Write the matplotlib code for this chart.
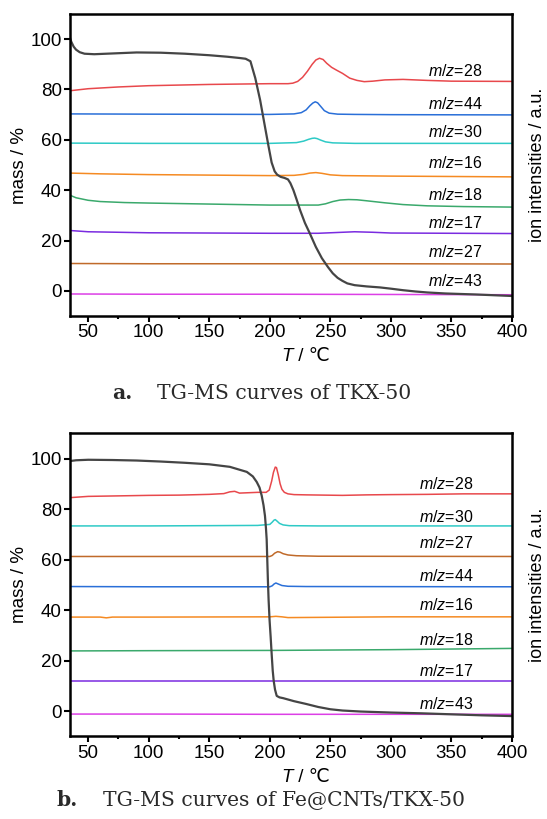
import matplotlib
matplotlib.use('Agg')
import matplotlib.pyplot as plt

plt.rcParams['font.family'] = ['Liberation Sans', 'DejaVu Sans']
plt.rcParams['mathtext.fontset'] = 'custom'
plt.rcParams['mathtext.it'] = 'Liberation Sans:italic'
plt.rcParams['mathtext.rm'] = 'Liberation Sans'

# ---------- panel a: TKX-50 ----------
tg_a_T = [35, 36, 38, 40, 43, 47, 55, 70, 90, 110, 130, 150, 165, 175, 180, 184, 188, 192, 196, 199, 201.5,
          204, 206, 209, 212, 215, 217, 219.5, 222, 225, 229, 233, 238, 243, 248, 252, 256, 260, 264, 270,
          280, 291, 300, 310, 320, 330, 345, 370, 400]
tg_a_M = [100.5, 99, 97, 95.8, 94.8, 94.2, 94.0, 94.3, 94.7, 94.6, 94.2, 93.6, 93.0, 92.5, 92.2, 91.2, 84.5,
          75.8, 65.2, 57.3, 51.0, 47.5, 46.2, 45.3, 44.9, 44.3, 42.8, 40.0, 36.5, 32.1, 27.0, 22.9, 17.5, 13.0,
          9.5, 7.0, 5.2, 4.0, 3.0, 2.3, 1.8, 1.4, 0.9, 0.3, -0.2, -0.6, -1.0, -1.4, -2.0]

m28_a_T = [35, 50, 75, 100, 150, 200, 215, 219, 223, 227, 231, 235, 238, 241, 244, 247, 251, 255, 260, 266,
           272, 278, 285, 295, 310, 330, 350, 400]
m28_a = [79.5, 80.3, 81.0, 81.5, 82.0, 82.3, 82.3, 82.5, 83.2, 84.8, 87.2, 90.0, 91.7, 92.4, 91.9, 90.4, 88.8,
         87.7, 86.4, 84.5, 83.6, 83.1, 83.3, 83.8, 84.0, 83.6, 83.3, 83.2]

m44_a_T = [35, 100, 200, 220, 226, 230, 233, 235.5, 237.5, 239.5, 242, 245, 249, 256, 270, 300, 400]
m44_a = [70.3, 70.2, 70.1, 70.3, 70.8, 71.9, 73.5, 74.6, 75.1, 74.7, 73.3, 71.6, 70.6, 70.2, 70.1, 70.0, 69.9]

m30_a_T = [35, 100, 200, 222, 228, 232, 235, 237, 239, 242, 246, 252, 270, 400]
m30_a = [58.7, 58.6, 58.6, 58.9, 59.5, 60.2, 60.6, 60.7, 60.5, 59.9, 59.2, 58.8, 58.6, 58.6]

m16_a_T = [35, 60, 100, 150, 200, 220, 228, 233, 238, 243, 250, 260, 300, 400]
m16_a = [46.8, 46.5, 46.2, 46.0, 45.8, 45.9, 46.3, 46.8, 47.0, 46.7, 46.1, 45.8, 45.6, 45.3]

m18_a_T = [35, 40, 50, 60, 80, 100, 150, 200, 240, 246, 252, 258, 265, 272, 280, 295, 310, 330, 360, 400]
m18_a = [38.0, 37.0, 36.0, 35.5, 35.1, 34.9, 34.5, 34.1, 34.1, 34.6, 35.5, 36.1, 36.3, 36.2, 35.8, 35.0, 34.3,
         33.8, 33.5, 33.3]

m17_a_T = [35, 50, 100, 150, 200, 240, 255, 270, 285, 300, 400]
m17_a = [24.0, 23.5, 23.1, 23.0, 22.9, 22.9, 23.2, 23.5, 23.3, 23.0, 22.8]

m27_a_T = [35, 100, 200, 300, 400]
m27_a = [10.9, 10.8, 10.8, 10.8, 10.7]

m43_a_T = [35, 100, 200, 300, 400]
m43_a = [-1.2, -1.3, -1.3, -1.4, -1.5]

# ---------- panel b: Fe@CNTs/TKX-50 ----------
tg_b_T = [35, 40, 50, 70, 90, 110, 130, 150, 167, 181, 186, 189.2, 191.5, 193.3, 194.8, 196, 196.8, 197.4,
          197.9, 198.4, 199, 199.8, 200.7, 201.6, 202.4, 203.2, 204.3, 205.7, 208, 211, 220, 230, 240, 250,
          260, 275, 300, 325, 350, 375, 400]
tg_b_M = [99.0, 99.3, 99.5, 99.4, 99.2, 98.8, 98.3, 97.7, 96.7, 94.7, 92.9, 90.7, 88.5, 85.3, 81.5, 77.3, 72.5,
          68.0, 60.0, 52.0, 44.0, 36.0, 29.3, 22.0, 16.0, 12.0, 8.5, 6.0, 5.4, 5.1, 3.9, 2.8, 1.6, 0.7, 0.2,
          -0.2, -0.6, -0.9, -1.3, -1.7, -2.0]

m28_b_T = [35, 50, 75, 100, 125, 150, 162, 167, 171, 175, 180, 190, 197, 199.5, 201.5, 203, 204.5, 205.5,
           207, 208.5, 210, 212, 215, 220, 230, 245, 260, 280, 300, 330, 360, 400]
m28_b = [84.5, 85.0, 85.2, 85.4, 85.5, 85.8, 86.1, 86.8, 87.0, 86.3, 86.4, 86.6, 86.6, 87.5, 91.0, 94.5, 96.6,
         96.4, 93.5, 90.0, 87.8, 86.6, 86.0, 85.7, 85.6, 85.5, 85.4, 85.6, 85.7, 85.8, 86.0, 86.0]

m30_b_T = [35, 100, 190, 200, 202, 203.5, 204.5, 206, 208, 211, 216, 240, 400]
m30_b = [73.3, 73.3, 73.5, 73.9, 74.8, 75.6, 75.8, 75.2, 74.3, 73.7, 73.4, 73.3, 73.3]

m27_b_T = [35, 100, 200, 202, 204, 206.5, 208.5, 211, 215, 222, 240, 400]
m27_b = [61.2, 61.2, 61.2, 61.6, 62.5, 63.1, 62.9, 62.3, 61.8, 61.5, 61.3, 61.2]

m44_b_T = [35, 100, 200, 202, 203.5, 205, 207, 210, 215, 230, 400]
m44_b = [49.3, 49.2, 49.2, 49.6, 50.3, 50.7, 50.3, 49.7, 49.4, 49.3, 49.2]

m16_b_T = [35, 60, 65, 70, 100, 200, 205, 210, 215, 300, 400]
m16_b = [37.2, 37.2, 36.9, 37.2, 37.2, 37.3, 37.5, 37.3, 37.0, 37.3, 37.3]

m18_b_T = [35, 100, 200, 300, 400]
m18_b = [23.8, 23.9, 24.0, 24.3, 24.8]

m17_b_T = [35, 100, 200, 300, 400]
m17_b = [12.0, 12.0, 12.0, 12.0, 12.0]

m43_b_T = [35, 100, 200, 300, 400]
m43_b = [-1.2, -1.2, -1.3, -1.3, -1.3]

c = {'28': '#e8484c', '44': '#2a6fd8', '30': '#2ecac6', '16': '#f58a22', '18': '#3aa96c',
     '17': '#7a2be0', '27': '#c06a2a', '43': '#dc3fe6'}

panel_a = [('28', m28_a_T, m28_a, 87.4), ('44', m44_a_T, m44_a, 74.3), ('30', m30_a_T, m30_a, 63.0),
           ('16', m16_a_T, m16_a, 50.9), ('18', m18_a_T, m18_a, 38.1), ('17', m17_a_T, m17_a, 27.1),
           ('27', m27_a_T, m27_a, 15.6), ('43', m43_a_T, m43_a, 4.1)]
panel_b = [('28', m28_b_T, m28_b, 90.0), ('30', m30_b_T, m30_b, 77.0), ('27', m27_b_T, m27_b, 66.7),
           ('44', m44_b_T, m44_b, 53.6), ('16', m16_b_T, m16_b, 42.0), ('18', m18_b_T, m18_b, 28.3),
           ('17', m17_b_T, m17_b, 15.7), ('43', m43_b_T, m43_b, 2.9)]


def draw(ax, curves, tg_T, tg_M, label_x):
    for mz, T, v, ly in curves:
        ax.plot(T, v, color=c[mz], lw=1.1)
        ax.text(label_x, ly, r'$m/z$=' + mz, fontsize=11.5, va='center', ha='left')
    ax.plot(tg_T, tg_M, color='#454545', lw=1.6)
    ax.set_xlim(35, 400)
    ax.set_ylim(-10, 110)
    ax.set_xticks([50, 100, 150, 200, 250, 300, 350, 400])
    ax.set_xticks([75, 125, 175, 225, 275, 325, 375], minor=True)
    ax.set_yticks([0, 20, 40, 60, 80, 100])
    ax.tick_params(axis='both', labelsize=13.5, width=1.5, length=4, direction='out', pad=2)
    ax.tick_params(axis='x', which='minor', width=1.5, length=2.5)
    for s in ax.spines.values():
        s.set_linewidth(1.8)
    ax.set_ylabel('mass / %', fontsize=13.5, labelpad=2)
    # x label: italic T followed by " / ℃" (℃ from DejaVu Sans)
    ax.text(0.505, -0.135, 'T', transform=ax.transAxes, fontsize=13.5, fontstyle='italic',
            ha='right', va='center')
    ax.text(0.505, -0.135, ' / ℃', transform=ax.transAxes, fontsize=13.5,
            family=['Liberation Sans', 'DejaVu Sans'], ha='left', va='center')
    ax.text(1.057, 0.5, 'ion intensities / a.u.', transform=ax.transAxes, rotation=90,
            fontsize=13, ha='center', va='center')


fig = plt.figure(figsize=(5.47, 8.19), dpi=100)
ax1 = fig.add_axes([0.128, 0.614, 0.808, 0.369])
ax2 = fig.add_axes([0.128, 0.101, 0.808, 0.370])

draw(ax1, panel_a, tg_a_T, tg_a_M, 331)
draw(ax2, panel_b, tg_b_T, tg_b_M, 323)

cap = dict(family='DejaVu Serif', fontsize=14.6, va='center', color='#2a2a2a')
fig.text(132 / 547, 1 - 393 / 819, 'a.', ha='right', fontweight='bold', **cap)
fig.text(157 / 547, 1 - 393 / 819, 'TG-MS curves of TKX-50', ha='left', **cap)
fig.text(78 / 547, 1 - 800 / 819, 'b.', ha='right', fontweight='bold', **cap)
fig.text(103 / 547, 1 - 800 / 819, 'TG-MS curves of Fe@CNTs/TKX-50', ha='left', **cap)

fig.savefig('out.png', dpi=100)
